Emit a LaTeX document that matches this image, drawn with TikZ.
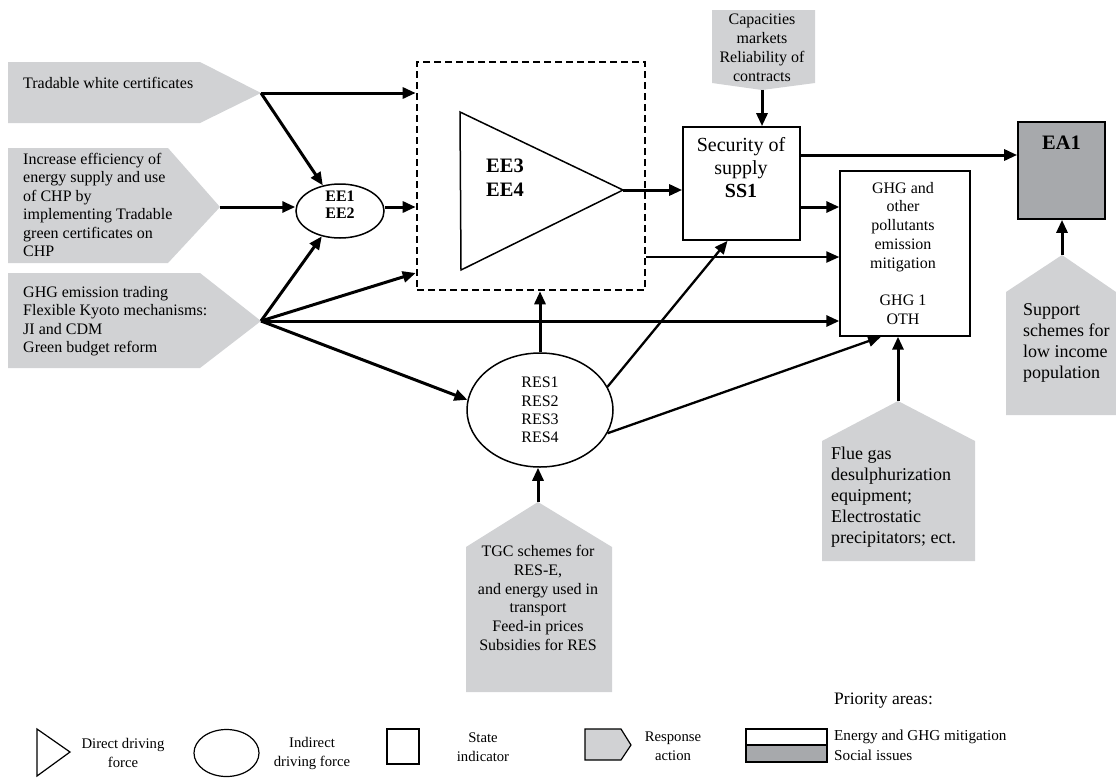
\documentclass[tikz,border=0pt]{standalone}
\usepackage{fontspec}
\setmainfont{Liberation Serif}
\usetikzlibrary{arrows.meta,shapes.geometric,calc}
\definecolor{respgray}{HTML}{D1D2D4}
\definecolor{socgray}{HTML}{A7A9AC}
\begin{document}
\begin{tikzpicture}[x=1pt,y=-1pt,
  arr/.style={line width=3pt,-{Triangle[length=13pt,width=11pt]}},
  arrthin/.style={line width=2.3pt,-{Triangle[length=13pt,width=11pt]}},
  resp/.style={fill=respgray},
  ftxt/.style={inner sep=0pt,font=\fontsize{16}{18.5}\selectfont},
  btxt/.style={inner sep=0pt,font=\fontsize{16}{17}\selectfont\bfseries},
  bigbtxt/.style={inner sep=0pt,font=\fontsize{20.5}{24}\selectfont\bfseries},
  sstxt/.style={inner sep=0pt,font=\fontsize{20}{23}\selectfont},
  ltxt/.style={inner sep=0pt,font=\fontsize{18}{21}\selectfont},
  legtxt/.style={inner sep=0pt,font=\fontsize{14.7}{19}\selectfont,align=center},
  prtxt/.style={inner sep=0pt,font=\fontsize{15.2}{18}\selectfont,anchor=west},
  boxline/.style={draw,line width=1.7pt,inner sep=0pt},
  legline/.style={line width=1.2pt}
]
\useasboundingbox (0,0) rectangle (1116,777);

% ---------- response actions (grey pentagons) ----------
\fill[resp] (8,62) -- (200,62) -- (261,93) -- (200,123) -- (8,123) -- cycle;
\coordinate (r1tip) at (261,93);
\node[ftxt,anchor=west] (r1txt) at (23,83) {Tradable white certificates};

\fill[resp] (8,148) -- (168,148) -- (220,207) -- (168,263) -- (8,263) -- cycle;
\coordinate (r2tip) at (220,207);
\node[ftxt,anchor=west,align=left] (r2txt) at (23,205) {Increase efficiency of\\energy supply and use\\of CHP by\\implementing Tradable\\green certificates on\\CHP};

\fill[resp] (8,273) -- (200,273) -- (261,321) -- (200,368) -- (8,368) -- cycle;
\coordinate (r3tip) at (261,321);
\node[ftxt,anchor=west,align=left] (r3txt) at (23,321) {GHG emission trading\\Flexible Kyoto mechanisms:\\JI and CDM\\Green budget reform};

\fill[resp] (712,10) -- (815,10) -- (815,83) -- (762,90) -- (712,83) -- cycle;
\coordinate (captip) at (762,90);
\node[ftxt,align=center,font=\fontsize{16}{19}\selectfont] (captxt) at (762,48) {Capacities\\markets\\Reliability of\\contracts};

\fill[resp] (538,502) -- (612,547) -- (612,692) -- (466,692) -- (466,547) -- cycle;
\coordinate (tgctip) at (538,502);
\node[ftxt,align=center,font=\fontsize{16}{18.8}\selectfont] (tgctxt) at (538,598) {TGC schemes for\\RES-E,\\and energy used in\\transport\\Feed-in prices\\Subsidies for RES};

\fill[resp] (898,401) -- (975,441) -- (975,561) -- (822,561) -- (822,441) -- cycle;
\coordinate (fluetip) at (898,401);
\node[ltxt,anchor=west,align=left] (fluetxt) at (831,497) {Flue gas\\desulphurization\\equipment;\\Electrostatic\\precipitators; ect.};

\fill[resp] (1062,255) -- (1116,292) -- (1116,415) -- (1006,415) -- (1006,292) -- cycle;
\coordinate (suptip) at (1062,255);
\node[ltxt,anchor=west,align=left] (suptxt) at (1023,343) {Support\\schemes for\\low income\\population};

% ---------- driving forces and indicators ----------
\node[draw,ellipse,line width=1.5pt,minimum width=88pt,minimum height=54pt,inner sep=0pt] (ee) at (340,211) {};
\node[btxt,align=center] (eetxt) at (340,205) {EE1\\EE2};

\node[draw,line width=2.6pt,dash pattern=on 7pt off 4pt,minimum width=228pt,minimum height=228pt,inner sep=0pt] (dbox) at (531,176) {};
\draw[line width=1.5pt,line join=miter] (460,112) -- (623,190) -- (461,270) -- cycle;
\coordinate (tri) at (623,190);
\node[bigbtxt,anchor=west,align=left] (tritxt) at (486,178) {EE3\\EE4};

\node[boxline,minimum width=117pt,minimum height=113pt] (ss) at (741.5,183.5) {};
\node[sstxt,align=center] (sslabel) at (741,168) {Security of\\supply\\\textbf{SS1}};

\node[boxline,line width=1.4pt,minimum width=130pt,minimum height=165pt] (ghg) at (905,253.5) {};
\node[ftxt,align=center,font=\fontsize{16}{18.8}\selectfont] (ghgtxt) at (903,253.5) {GHG and\\other\\pollutants\\emission\\mitigation\\[18.8pt]GHG 1\\OTH};

\node[boxline,fill=socgray,minimum width=87pt,minimum height=97pt] (ea) at (1061.5,170.5) {};
\node[bigbtxt] (eatxt) at (1061.5,143) {EA1};

\node[draw,ellipse,line width=1.5pt,minimum width=146pt,minimum height=114pt,inner sep=0pt,align=center,font=\fontsize{16}{18.4}\selectfont] (res) at (540,410) {RES1\\RES2\\RES3\\RES4};

% ---------- connectors ----------
\draw[arr] (r1tip) -- (r1tip -| dbox.west);
\draw[arr] (r1tip) -- (ee);
\draw[arr] (r2tip) -- (r2tip -| ee.west);
\draw[arr] (ee.east |- r2tip) -- (dbox.west |- r2tip);
\draw[arr] (r3tip) -- (ee);
\draw[arr] (r3tip) -- (dbox.west |- 0,273);
\draw[arr] (r3tip) -- (r3tip -| ghg.west);
\draw[arr] (r3tip) -- (res.172);
\draw[arr] (tri) -- (tri -| ss.west);
\draw[arr] (captip) -- (captip |- ss.north);
\draw[arr] (ss.east |- 0,155) -- (ea.west |- 0,155);
\draw[arr] (ss.east |- 0,207) -- (ghg.west |- 0,207);
\draw[arrthin] (dbox.east |- 0,257) -- (ghg.west |- 0,257);
\draw[arr] (res.north) -- (res.north |- dbox.south);
\draw[arrthin] (res.19) -- ($(ss.south)+(-14,0)$);
\draw[arrthin] (res.-19) -- ($(ghg.south)+(-24,0)$);
\draw[arr] (fluetip) -- (fluetip |- ghg.south);
\draw[arr] (tgctip) -- (tgctip |- res.south);
\draw[arr] (suptip) -- (suptip |- ea.south);

% ---------- legend ----------
\draw[legline,line join=miter] (37,729) -- (70,752) -- (37,776) -- cycle;
\node[legtxt] (lg1) at (123,753) {Direct driving\\force};
\node[draw,ellipse,legline,minimum width=65pt,minimum height=47pt,inner sep=0pt] (lgell) at (226.5,753) {};
\node[legtxt] (lg2) at (312,753) {Indirect\\driving force};
\node[draw,legline,minimum width=32pt,minimum height=35pt,inner sep=0pt] (lgsq) at (403,746.5) {};
\node[legtxt] (lg3) at (483,747) {State\\indicator};
\filldraw[fill=respgray,legline] (585,729) -- (621,729) -- (631,745) -- (621,760) -- (585,760) -- cycle;
\node[legtxt] (lg4) at (673,746) {Response\\action};
\draw[legline] (746,729) rectangle (827,745);
\filldraw[fill=socgray,legline] (746,745) rectangle (827,762);
\node[prtxt] (lg5) at (834,737) {Energy and GHG mitigation};
\node[prtxt] (lg6) at (834,755) {Social issues};
\node[inner sep=0pt,anchor=west,font=\fontsize{17.5}{20}\selectfont] (lgp) at (834,701) {Priority areas:};
\end{tikzpicture}
\end{document}
